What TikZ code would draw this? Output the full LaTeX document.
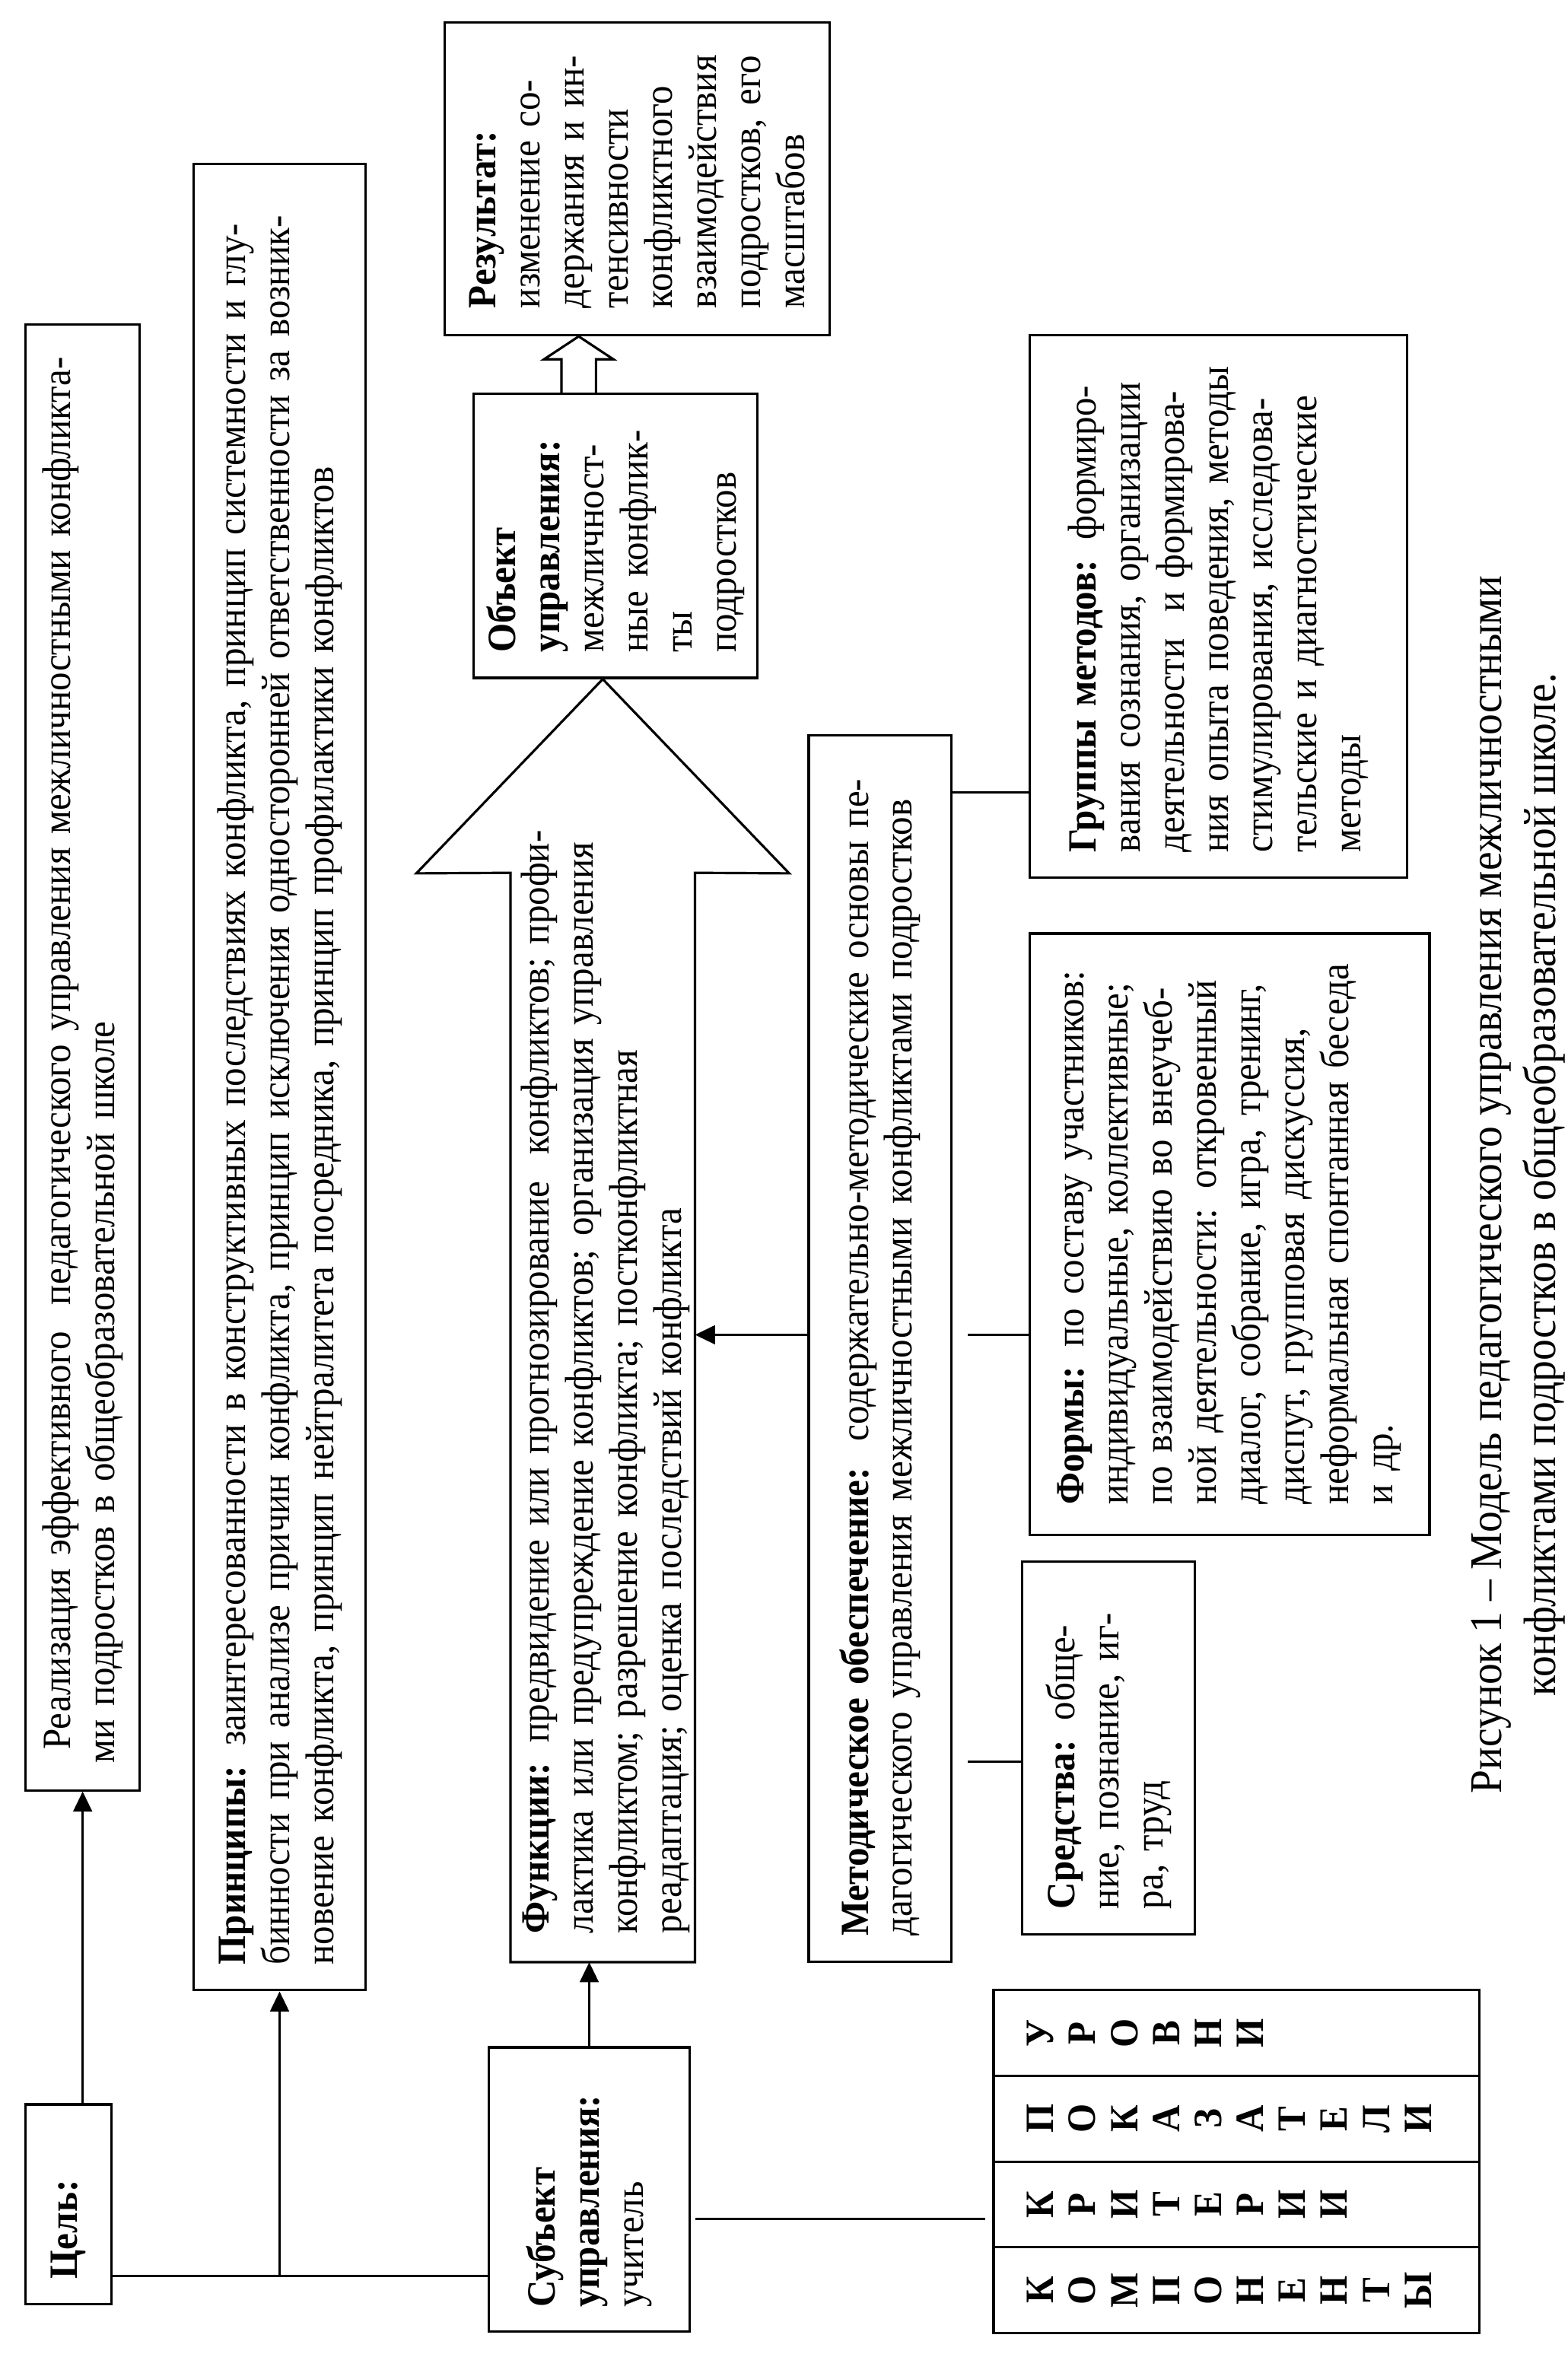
\documentclass[tikz,border=0pt]{standalone}
\usepackage{fontspec}
\setmainfont[FakeStretch=0.93]{Liberation Serif}
\usetikzlibrary{arrows.meta}
\newlength{\ux}
\setlength{\ux}{0.5622pt}
\newcommand{\boxfont}{\fontsize{15}{16.5}\selectfont}
\newcommand{\letfont}{\fontsize{15}{15.7}\selectfont}
\newcommand{\capfont}{\fontsize{17}{20}\selectfont}
\newcommand{\sline}[1]{\makebox[360\ux][s]{#1}}
\begin{document}
\begin{tikzpicture}[x=0.5622pt, y=0.5622pt, rotate=90, transform shape,
  box/.style={draw, line width=0.9pt, inner ysep=0pt, align=left, font=\boxfont},
  col/.style={draw, line width=0.9pt, minimum width=57\ux, minimum height=323\ux, inner sep=0pt},
  letters/.style={inner sep=0pt, align=center, font=\letfont\bfseries},
  arr/.style={line width=0.9pt, -{Triangle[length=7.5pt, width=7pt]}},
  link/.style={line width=0.9pt}]
  \useasboundingbox (0,0) rectangle (1568,-1043);

  \node[box, minimum width=133\ux, minimum height=57\ux, inner xsep=17\ux, text width=99\ux] (cel) at (101.5,-45.5) {\textbf{Цель:}};
  \node[box, minimum width=975\ux, minimum height=76\ux, inner xsep=18\ux, text width=939\ux] (real) at (864.5,-55) {\hspace*{9\ux}Реализация эффективного\ \ педагогического управления межличностными конфликта-\\ми подростков в общеобразовательной школе};
  \node[box, minimum width=1215\ux, minimum height=114\ux, inner xsep=17\ux, text width=1181\ux] (princ) at (851.5,-186) {\textbf{Принципы:} заинтересованности в конструктивных последствиях конфликта, принцип системности и глу-\\бинности при анализе причин конфликта, принцип исключения односторонней ответственности за возник-\\новение конфликта, принцип нейтралитета посредника, принцип профилактики конфликтов};
  \node[box, minimum width=189\ux, minimum height=134\ux, inner xsep=16\ux, text width=157\ux] (subj) at (111.5,-392) {\textbf{Субъект}\\\textbf{управления:}\\учитель};
  \node[minimum width=724\ux, minimum height=122\ux, inner sep=0pt] (func) at (625,-401) {};
  \node[box, draw=none, anchor=west, inner xsep=0pt, text width=760\ux] (functxt) at (281,-403) {\textbf{Функции:} предвидение или прогнозирование\ \ конфликтов; профи-\\лактика или предупреждение конфликтов; организация управления\\конфликтом; разрешение конфликта; постконфликтная\\реадаптация; оценка последствий конфликта};
  \node[box, minimum width=189\ux, minimum height=189\ux, inner xsep=17\ux, text width=155\ux] (obj) at (1211.5,-409.5) {\textbf{Объект}\\\textbf{управления:}\\межличност-\\ные конфлик-\\ты\\подростков};
  \node[box, minimum width=208\ux, minimum height=256\ux, inner xsep=18\ux, text width=172\ux] (res) at (1449,-424) {\textbf{Результат:}\\изменение со-\\держания и ин-\\тенсивности\\конфликтного\\взаимодействия\\подростков, его\\масштабов};
  \node[box, minimum width=816\ux, minimum height=95\ux, inner xsep=17\ux, text width=782\ux] (meth) at (671,-585.5) {\textbf{Методическое обеспечение:}\ \ содержательно-методические основы пе-\\дагогического управления межличностными конфликтами подростков};
  \node[box, minimum width=361\ux, minimum height=251\ux, inner xsep=17\ux, text width=327\ux] (grp) at (1164.5,-810.5) {\textbf{Группы методов:} формиро-\\вания сознания, организации\\деятельности\ \ и формирова-\\ния опыта поведения, методы\\стимулирования, исследова-\\тельские и диагностические\\методы};
  \node[box, minimum width=400\ux, minimum height=266\ux, inner xsep=20\ux, text width=360\ux] (forms) at (747,-818) {\sline{\textbf{Формы:} по составу участников:}\\\sline{индивидуальные, коллективные;}\\\sline{по взаимодействию во внеучеб-}\\\sline{ной деятельности: откровенный}\\\sline{диалог, собрание, игра, тренинг,}\\\sline{диспут, групповая дискуссия,}\\\sline{неформальная спонтанная беседа}\\и др.};
  \node[box, minimum width=248\ux, minimum height=115\ux, inner xsep=17\ux, text width=214\ux] (sred) at (405,-737.5) {\textbf{Средства:} обще-\\ние, познание, иг-\\ра, труд};

  \node[col] (komp) at (44.5,-822.5) {};
  \node[col] (krit) at (101.5,-822.5) {};
  \node[col] (pokaz) at (158.5,-822.5) {};
  \node[col] (urov) at (215.5,-822.5) {};
  \node[letters, anchor=north] (kompt) at (44.5,-683) {К\\О\\М\\П\\О\\Н\\Е\\Н\\Т\\Ы};
  \node[letters, anchor=north] (kritt) at (101.5,-683) {К\\Р\\И\\Т\\Е\\Р\\И\\И};
  \node[letters, anchor=north] (pokazt) at (158.5,-683) {П\\О\\К\\А\\З\\А\\Т\\Е\\Л\\И};
  \node[letters, anchor=north] (urovt) at (215.5,-683) {У\\Р\\О\\В\\Н\\И};

  \node[font=\capfont, align=center] (cap) at (780,-1010) {Рисунок 1 – Модель педагогического управления межличностными\\конфликтами подростков в общеобразовательной школе.};

  \draw[link] (func.north east) -- (func.north west) -- (func.south west) -- (func.south east) -- (987,-525) -- (obj.west |- func.east) -- (987,-277) -- cycle;
  \draw[link] (obj.east |- 0,-373.5) -- (1329,-373.5) -- (1329,-362) -- (res.west |- 0,-385) -- (1329,-408) -- (1329,-396.5) -- (obj.east |- 0,-396.5);

  \coordinate (tr) at (54,-100);
  \coordinate (tb) at (92,-560);
  \coordinate (mf) at (680,-500);
  \coordinate (ms) at (396,-650);
  \coordinate (mg) at (1041,-650);
  \draw[arr] (cel.east |- real.west) -- (real.west);
  \draw[link] (tr |- cel.south) -- (tr |- subj.north);
  \draw[arr] (tr |- princ.west) -- (princ.west);
  \draw[arr] (subj.east) -- (subj.east -| func.west);
  \draw[link, shorten <=3\ux, shorten >=5\ux] (tb |- subj.south) -- (tb |- krit.north);
  \draw[arr] (mf |- meth.north) -- (mf |- func.south);
  \draw[link, shorten <=10\ux] (mf |- meth.south) -- (mf |- forms.north);
  \draw[link, shorten <=10\ux] (ms |- meth.south) -- (ms |- sred.north);
  \draw[link] (mg |- meth.south) -- (mg |- grp.north);
\end{tikzpicture}
\end{document}
